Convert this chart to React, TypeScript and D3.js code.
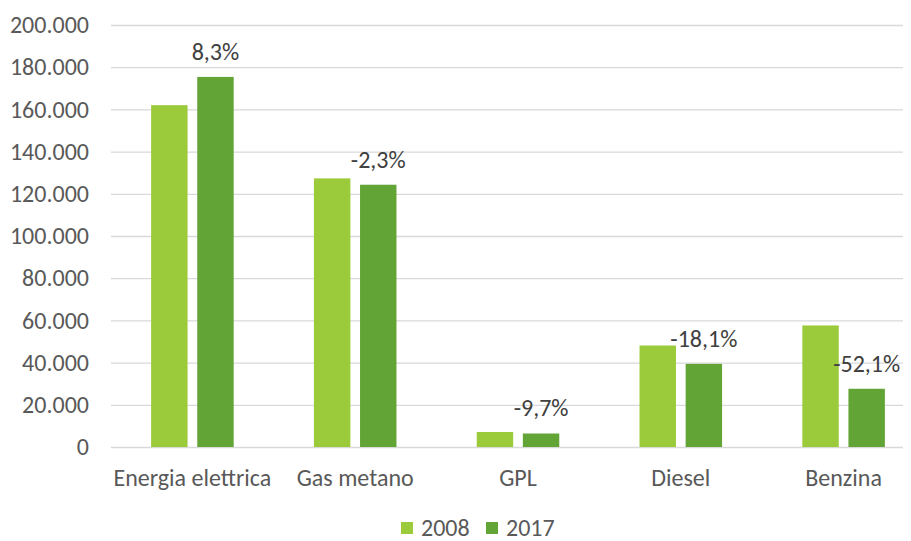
import React, { useEffect, useRef } from 'react';
import * as d3 from 'd3';

const categories = ['Energia elettrica', 'Gas metano', 'GPL', 'Diesel', 'Benzina'];
const series = ['2008', '2017'];
const values2008 = [162000, 127300, 7100, 48100, 57600];
const values2017 = [175400, 124300, 6400, 39400, 27600];
const changeLabels = ['8,3%', '-2,3%', '-9,7%', '-18,1%', '-52,1%'];
const yTicks = [0, 20000, 40000, 60000, 80000, 100000, 120000, 140000, 160000, 180000, 200000];
const colors = ['#9BCA3B', '#63A437'];

const App: React.FC = () => {
  const svgRef = useRef<SVGSVGElement>(null);

  useEffect(() => {
    if (!svgRef.current) return;
    const W = 911, H = 541;
    // plot area runs past the right edge of the picture (chart is cropped)
    const margin = { top: 25, left: 111 };
    const width = 814;
    const height = 422;
    const font = 'Carlito, Calibri, "Open Sans", sans-serif';
    const textColor = '#595959';
    const fs = 24;

    const svg = d3.select(svgRef.current).attr('width', W).attr('height', H).html('');
    svg.append('rect').attr('width', W).attr('height', H).attr('fill', '#fff');
    const g = svg.append('g').attr('transform', `translate(${margin.left},${margin.top})`);

    const x = d3.scaleBand().domain(categories).range([0, width]).paddingInner(0).paddingOuter(0);
    const x1 = d3.scaleBand().domain(series).range([0, x.bandwidth()]).paddingInner(0.21).paddingOuter(0.87);
    const y = d3.scaleLinear().domain([0, 200000]).range([height, 0]);
    const fmt = (v: number) => d3.format(',')(v).replace(/,/g, '.');

    const yAxis = d3.axisLeft(y).tickValues(yTicks).tickSize(-width).tickPadding(22).tickFormat(d => fmt(+d));
    const gy = g.append('g').call(yAxis);
    gy.select('.domain').remove();
    gy.selectAll('.tick line').attr('stroke', '#D9D9D9').attr('stroke-width', 1.3);
    gy.selectAll('.tick text').attr('fill', textColor).attr('font-size', fs).attr('font-family', font);

    const xAxis = d3.axisBottom(x).tickSize(0).tickPadding(22);
    const gx = g.append('g').attr('transform', `translate(0,${height})`).call(xAxis);
    gx.select('.domain').remove();
    gx.selectAll('.tick text').attr('fill', textColor).attr('font-size', fs).attr('font-family', font);

    const data = [values2008, values2017];
    series.forEach((s, si) => {
      g.append('g').selectAll('rect')
        .data(categories)
        .join('rect')
        .attr('x', c => (x(c) as number) + (x1(s) as number))
        .attr('y', (_, i) => y(data[si][i]))
        .attr('width', x1.bandwidth())
        .attr('height', (_, i) => height - y(data[si][i]))
        .attr('fill', colors[si]);
    });

    g.append('g').selectAll('text')
      .data(categories)
      .join('text')
      .attr('x', c => (x(c) as number) + (x1('2017') as number) + x1.bandwidth() / 2)
      .attr('y', (_, i) => y(values2017[i]) - 17)
      .attr('text-anchor', 'middle')
      .attr('fill', '#404040')
      .attr('font-size', fs)
      .attr('font-family', font)
      .text((_, i) => changeLabels[i]);

    const legend = svg.append('g').attr('transform', 'translate(401,522)');
    const offsets = [0, 85];
    series.forEach((s, i) => {
      const lg = legend.append('g').attr('transform', `translate(${offsets[i]},0)`);
      lg.append('rect').attr('width', 12).attr('height', 12).attr('fill', colors[i]);
      lg.append('text').attr('x', 20).attr('y', 14).attr('fill', textColor)
        .attr('font-size', fs).attr('font-family', font).text(s);
    });
  }, []);

  return <svg ref={svgRef} style={{ display: 'block', margin: '-8px 0 0 -8px' }}></svg>;
};

export default App;
